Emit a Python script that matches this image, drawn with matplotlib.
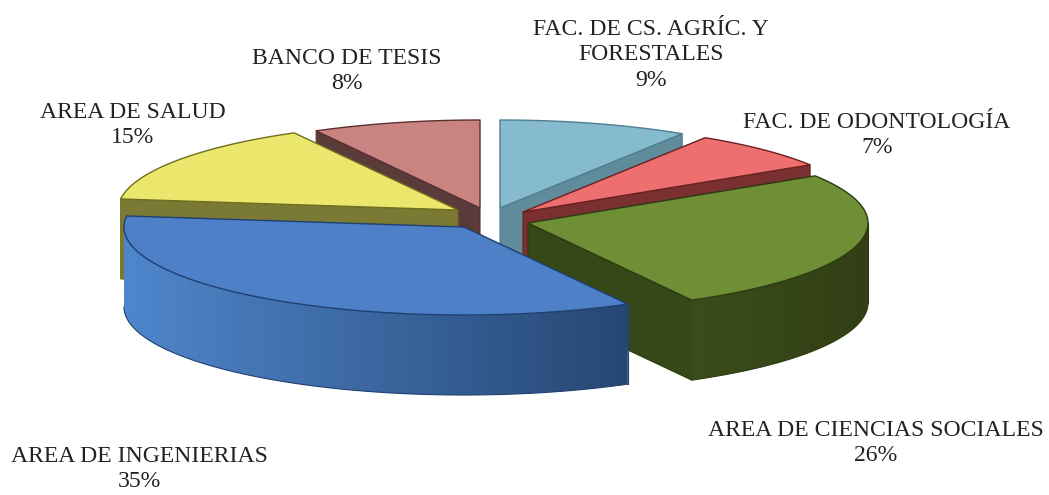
import numpy as np
import matplotlib
matplotlib.use("Agg")
import matplotlib.pyplot as plt
from matplotlib.patches import Polygon

# --- data ---
categories = ["FAC. DE CS. AGRÍC. Y\nFORESTALES", "FAC. DE ODONTOLOGÍA",
              "AREA DE CIENCIAS SOCIALES", "AREA DE INGENIERIAS",
              "AREA DE SALUD", "BANCO DE TESIS"]
values = [9, 7, 26, 35, 15, 8]

top_colors = ["#86bacf", "#ee6f6f", "#6f8f37", "#4d80c6", "#ebe76c", "#c98482"]
wall_colors = ["#5f8b9a", "#7a2f30", "#364818", "#2f5588", "#7b7a35", "#5b3a3a"]
edge_colors = ["#4f7f90", "#6a2020", "#2c3a10", "#1f3f70", "#6f6d20", "#5a3030"]
rim_left = ["#5f8b9a", "#7a2f30", "#3b4d1b", "#4f86cc", "#7b7a35", "#5b3a3a"]
rim_right = ["#5f8b9a", "#7a2f30", "#323f15", "#264773", "#7b7a35", "#5b3a3a"]
# where each exploded slice's apex lands on the canvas (pixels)
apex = [(500, 208), (523, 212), (528, 223), (464, 227), (458, 210), (480, 208)]
label_pos = [(651, 55), (877, 135), (876, 443), (139, 469), (133, 125), (347, 71)]

RX, RY, DEPTH = 340.0, 88.0, 80.0
draw_order = [0, 5, 1, 4, 2, 3]

W, H = 1049, 495
fig = plt.figure(figsize=(W / 100, H / 100), dpi=100)
ax = fig.add_axes([0, 0, 1, 1])
ax.set_xlim(0, W)
ax.set_ylim(H, 0)
ax.axis("off")

bounds = np.cumsum([0] + values) / sum(values) * 2 * np.pi


def arc(c, t0, t1, n=120):
    t = np.linspace(t0, t1, n)
    return np.column_stack([c[0] + RX * np.sin(t), c[1] - RY * np.cos(t)])


def gradient_poly(pts, c_left, c_right, z):
    poly = Polygon(pts, closed=True, fc="none", ec="none", zorder=z)
    ax.add_patch(poly)
    rgb0 = np.array(matplotlib.colors.to_rgb(c_left))
    rgb1 = np.array(matplotlib.colors.to_rgb(c_right))
    f = np.linspace(0, 1, 256)[None, :, None]
    img = rgb0 + (rgb1 - rgb0) * f
    x0, x1 = pts[:, 0].min(), pts[:, 0].max()
    y0, y1 = pts[:, 1].min(), pts[:, 1].max()
    im = ax.imshow(img, extent=(x0, x1, y1, y0), aspect="auto", zorder=z,
                   interpolation="bilinear")
    im.set_clip_path(poly)
    ax.set_xlim(0, W)
    ax.set_ylim(H, 0)


for k, i in enumerate(draw_order):
    c = np.array(apex[i], float)
    t0, t1 = bounds[i], bounds[i + 1]
    z = 2 + k
    down = np.array([0, DEPTH])
    # only the radial walls that face the viewer
    for t, visible in ((t0, np.sin(t0) < -1e-6), (t1, np.sin(t1) > 1e-6)):
        if visible:
            e = arc(c, t, t, 1)[0]
            ax.add_patch(Polygon([c, e, e + down, c + down], closed=True,
                                 fc=wall_colors[i], ec=edge_colors[i], lw=0.8, zorder=z))
    # front rim: the part of the arc between 90 and 270 degrees
    a, b = max(t0, np.pi / 2), min(t1, 3 * np.pi / 2)
    if a < b:
        r = arc(c, a, b)
        pts = np.vstack([r, (r + down)[::-1]])
        gradient_poly(pts, rim_left[i], rim_right[i], z)
        ax.plot(*(r + down).T, color=edge_colors[i], lw=0.8, zorder=z)
        ax.plot(*np.array([r[0], r[0] + down]).T, color=edge_colors[i], lw=0.8, zorder=z)
    # top face
    r = arc(c, t0, t1)
    ax.add_patch(Polygon(np.vstack([c, r]), closed=True, fc=top_colors[i],
                         ec=edge_colors[i], lw=1.0, zorder=z, joinstyle="round"))

for name, v, (x, y) in zip(categories, values, label_pos):
    ax.text(x, y, f"{name}\n{v}%", ha="center", va="center", color="#222222",
            family="Liberation Serif", fontsize=17.1, linespacing=1.27, zorder=20)

fig.savefig("out.png", dpi=100)
